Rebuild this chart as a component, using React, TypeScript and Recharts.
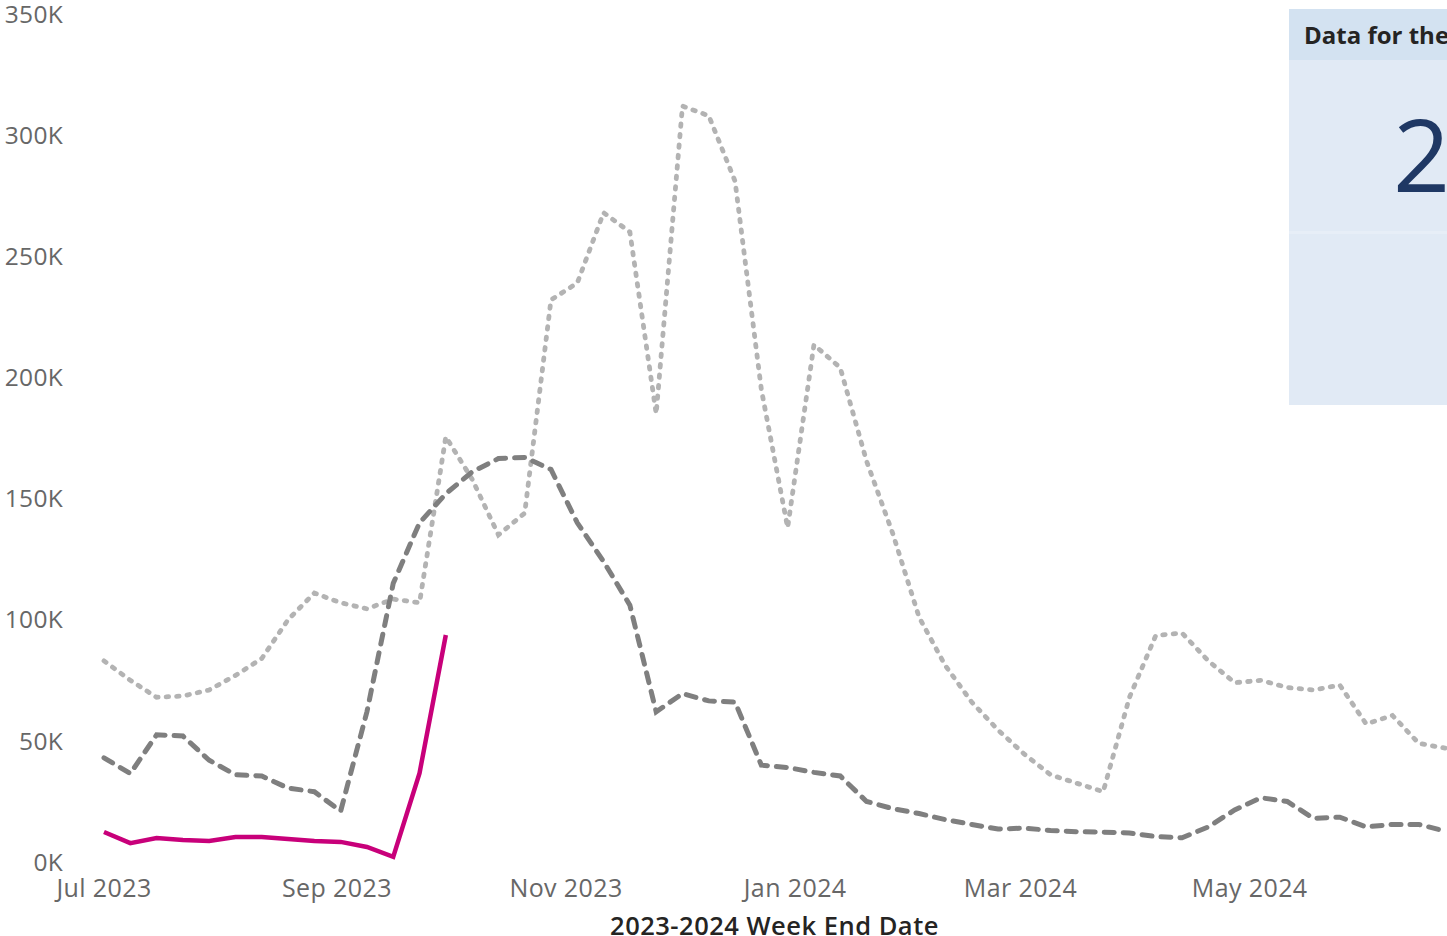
import { LineChart, Line, XAxis, YAxis } from 'recharts';

// week ending Saturdays, starting Jul 1 2023
const START = Date.UTC(2023, 6, 1);
const WEEK = 7 * 24 * 3600 * 1000;

// values in thousands
const currentSeason = [12.4, 7.8, 9.9, 9.1, 8.7, 10.3, 10.3, 9.5, 8.7, 8.3, 6.2, 2.1, 36.7, 93.7];

const priorSeasonA = [
  43, 36.5, 52.5, 52, 42, 36, 35.5, 30.5, 29, 21, 62, 115, 140, 152, 161, 166.5, 167, 162,
  140, 124, 106, 62, 69.5, 66.5, 66, 40, 39, 37, 35.5, 25, 22, 20, 17.5, 15.5, 13.6, 14,
  13, 12.5, 12.3, 12, 10.5, 10, 14.5, 21.5, 26.5, 25, 18, 18.5, 14.5, 15.5, 15.5, 12.8,
];

const priorSeasonB = [
  83, 75, 68, 68.5, 71, 77, 84, 100, 111, 107, 104.5, 108.5, 107, 175.5, 158, 135, 144, 232,
  239, 268, 260, 185, 312, 308, 281, 195, 138, 213.5, 204, 165.5, 135.5, 101, 81, 66, 54.5,
  44.5, 36, 32.5, 29, 68, 93.5, 94.5, 83, 74, 75, 72, 71, 73, 57, 60.5, 49, 47,
];

const xTicks = [
  Date.UTC(2023, 6, 1),
  Date.UTC(2023, 8, 1),
  Date.UTC(2023, 10, 1),
  Date.UTC(2024, 0, 1),
  Date.UTC(2024, 2, 1),
  Date.UTC(2024, 4, 1),
];
const yTicks = [0, 50, 100, 150, 200, 250, 300, 350];

const MONTHS = ['Jan', 'Feb', 'Mar', 'Apr', 'May', 'Jun', 'Jul', 'Aug', 'Sep', 'Oct', 'Nov', 'Dec'];

const data = priorSeasonA.map((a, i) => ({
  t: START + i * WEEK,
  current: i < currentSeason.length ? currentSeason[i] * 1000 : null,
  priorA: a * 1000,
  priorB: priorSeasonB[i] * 1000,
}));

const font = '"Open Sans", "Noto Sans", sans-serif';

export default function App() {
  return (
    <div style={{ position: 'absolute', left: 0, top: 0, width: 1447, height: 936, overflow: 'hidden', background: '#fff', fontFamily: font }}>
      <LineChart width={1447} height={936} data={data} margin={{ top: 14, right: 2, bottom: 0, left: 0 }}>
        <XAxis
          dataKey="t"
          type="number"
          domain={[START, START + 51 * WEEK]}
          ticks={xTicks}
          tickFormatter={(v: number) => {
            const d = new Date(v);
            return `${MONTHS[d.getUTCMonth()]} ${d.getUTCFullYear()}`;
          }}
          axisLine={false}
          tickLine={false}
          tickSize={0}
          tickMargin={17}
          height={74}
          tick={{ fill: '#676767', fontSize: 25, letterSpacing: 0.4, fontFamily: font }}
          label={{ value: '2023-2024 Week End Date', position: 'insideBottom', offset: 1, fill: '#252423', fontSize: 25.5, fontWeight: 600, letterSpacing: 0.5, fontFamily: font }}
        />
        <YAxis
          type="number"
          domain={[0, 350000]}
          ticks={yTicks.map(v => v * 1000)}
          tickFormatter={(v: number) => `${v / 1000}K`}
          axisLine={false}
          tickLine={false}
          tickSize={0}
          tickMargin={41}
          width={104}
          tick={{ fill: '#676767', fontSize: 24.5, letterSpacing: 0.3, fontFamily: font }}
        />
        <Line dataKey="priorB" stroke="#b3b3b3" strokeWidth={4.8} strokeDasharray="2.5 8" strokeLinecap="round" dot={false} isAnimationActive={false} />
        <Line dataKey="priorA" stroke="#7f7f7f" strokeWidth={5} strokeDasharray="10 9" strokeLinecap="round" dot={false} isAnimationActive={false} />
        <Line dataKey="current" stroke="#c8007a" strokeWidth={4.5} dot={false} isAnimationActive={false} connectNulls={false} />
      </LineChart>

      <div style={{ position: 'absolute', left: 1289, top: 9, width: 300, height: 396, background: '#e1eaf5' }}>
        <div style={{ height: 51, background: '#d3e2f1', display: 'flex', alignItems: 'center', paddingLeft: 15, fontSize: 24, fontWeight: 700, color: '#252423', whiteSpace: 'nowrap' }}>
          Data for the
        </div>
        <div style={{ position: 'absolute', left: 104, top: 94, fontSize: 100, lineHeight: '100px', color: '#1f3864', fontWeight: 500 }}>2</div>
        <div style={{ position: 'absolute', left: 0, right: 0, top: 222, height: 3, background: '#e7eef7' }} />
      </div>
    </div>
  );
}
